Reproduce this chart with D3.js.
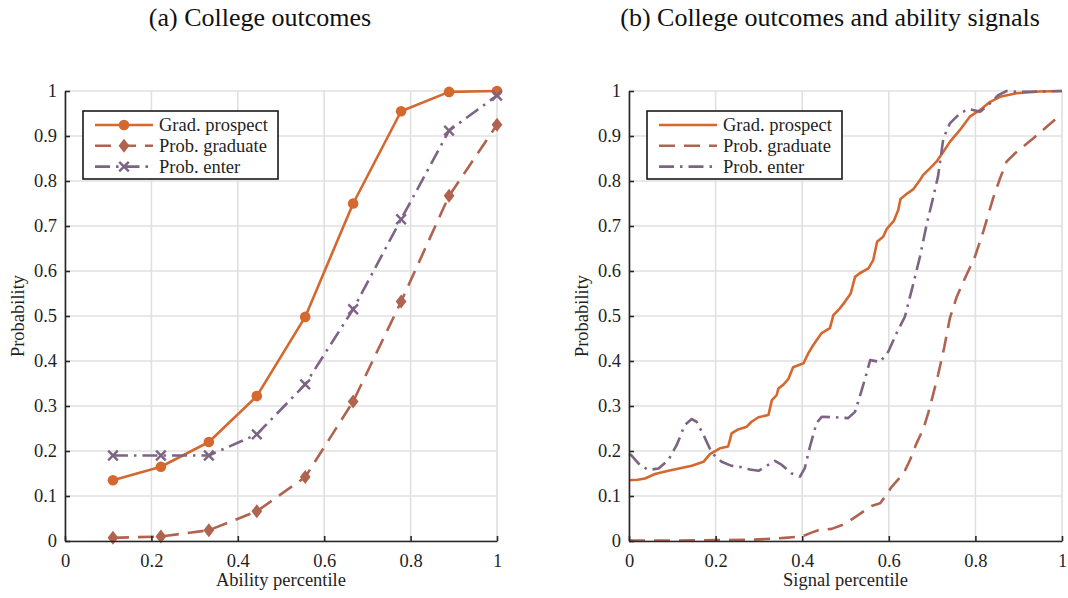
<!DOCTYPE html>
<html>
<head>
<meta charset="utf-8">
<script src="https://cdn.jsdelivr.net/npm/d3@7"></script>
<style>
  body { margin: 0; background: #fff; }
  svg { display: block; }
  text { font-family: "Liberation Serif", "DejaVu Serif", serif; fill: #1f1f1f; }
  .title { font-size: 26px; fill: #111; }
  .tick text { font-size: 18.5px; }
  .axis-label { font-size: 18.5px; }
  .legend text { font-size: 18.5px; }
</style>
</head>
<body>
<svg id="chart" width="1068" height="598"></svg>
<script>
// ---- data ----
const seriesNames = ['Grad. prospect', 'Prob. graduate', 'Prob. enter'];
const seriesColors = ['#d4682e', '#b0634f', '#7d6384'];

// panel (a): ability percentile
const abilityX = [0.111, 0.222, 0.333, 0.444, 0.556, 0.667, 0.778, 0.889, 1.0];
const abilityGradProspect = [0.135, 0.165, 0.22, 0.322, 0.498, 0.75, 0.955, 0.998, 1.0];
const abilityProbGraduate = [0.007, 0.01, 0.024, 0.066, 0.142, 0.31, 0.532, 0.767, 0.925];
const abilityProbEnter = [0.19, 0.19, 0.19, 0.237, 0.348, 0.515, 0.715, 0.912, 0.99];

// panel (b): signal percentile, [x, y]
const signalGradProspect = [
  [0, 0.135], [0.02, 0.136], [0.037, 0.139], [0.06, 0.149], [0.091, 0.156], [0.145, 0.167],
  [0.172, 0.176], [0.187, 0.193], [0.21, 0.206], [0.229, 0.21], [0.237, 0.239], [0.252, 0.248],
  [0.272, 0.254], [0.283, 0.265], [0.299, 0.275], [0.322, 0.28], [0.33, 0.313], [0.341, 0.324],
  [0.345, 0.339], [0.356, 0.347], [0.368, 0.36], [0.379, 0.386], [0.403, 0.395], [0.414, 0.417],
  [0.426, 0.436], [0.445, 0.462], [0.464, 0.473], [0.472, 0.502], [0.487, 0.517], [0.499, 0.532],
  [0.512, 0.55], [0.522, 0.587], [0.533, 0.595], [0.553, 0.606], [0.564, 0.624], [0.573, 0.665],
  [0.587, 0.676], [0.595, 0.693], [0.612, 0.712], [0.622, 0.736], [0.627, 0.76], [0.641, 0.771],
  [0.657, 0.782], [0.672, 0.802], [0.679, 0.813], [0.695, 0.828], [0.71, 0.843], [0.726, 0.865],
  [0.741, 0.887], [0.764, 0.913], [0.787, 0.943], [0.811, 0.958], [0.834, 0.976], [0.857, 0.987],
  [0.895, 0.995], [0.949, 0.999], [1.0, 1.0]
];
const signalProbGraduate = [
  [0, 0.001], [0.1, 0.001], [0.2, 0.002], [0.29, 0.003], [0.36, 0.007], [0.399, 0.01],
  [0.42, 0.018], [0.437, 0.024], [0.468, 0.027], [0.499, 0.038], [0.53, 0.058], [0.56, 0.078],
  [0.58, 0.084], [0.591, 0.098], [0.607, 0.121], [0.634, 0.15], [0.649, 0.18], [0.664, 0.217],
  [0.68, 0.25], [0.691, 0.284], [0.703, 0.328], [0.714, 0.37], [0.728, 0.43], [0.741, 0.495],
  [0.757, 0.543], [0.772, 0.576], [0.799, 0.632], [0.818, 0.687], [0.841, 0.762], [0.857, 0.806],
  [0.872, 0.843], [0.891, 0.861], [0.934, 0.895], [1.0, 0.95]
];
const signalProbEnter = [
  [0, 0.193], [0.005, 0.191], [0.025, 0.169], [0.045, 0.158], [0.068, 0.161], [0.091, 0.18],
  [0.11, 0.213], [0.129, 0.258], [0.145, 0.271], [0.156, 0.265], [0.172, 0.236], [0.191, 0.196],
  [0.214, 0.176], [0.237, 0.167], [0.26, 0.164], [0.279, 0.159], [0.299, 0.156], [0.318, 0.167],
  [0.337, 0.178], [0.353, 0.169], [0.376, 0.15], [0.395, 0.143], [0.406, 0.162], [0.418, 0.21],
  [0.433, 0.262], [0.445, 0.276], [0.476, 0.275], [0.506, 0.273], [0.522, 0.287], [0.533, 0.321],
  [0.545, 0.36], [0.557, 0.402], [0.58, 0.398], [0.599, 0.421], [0.618, 0.462], [0.637, 0.498],
  [0.657, 0.573], [0.672, 0.632], [0.688, 0.706], [0.703, 0.765], [0.714, 0.812], [0.726, 0.895],
  [0.741, 0.928], [0.764, 0.95], [0.784, 0.96], [0.811, 0.954], [0.83, 0.969], [0.853, 0.991],
  [0.872, 1.0], [0.895, 0.998], [1.0, 1.0]
];

const xTicks = [0, 0.2, 0.4, 0.6, 0.8, 1];
const yTicks = [0, 0.1, 0.2, 0.3, 0.4, 0.5, 0.6, 0.7, 0.8, 0.9, 1];

// ---- drawing ----
const svg = d3.select('#chart');
const dashes = [null, '16,9', '15,6,2.5,6'];
const lineWidth = 2.6;

const drawMarker = (g, kind, color) => {
  if (kind === 'circle') {
    g.append('circle').attr('r', 5.3).attr('fill', color);
  } else if (kind === 'diamond') {
    g.append('path').attr('d', 'M0,-7L5.4,0L0,7L-5.4,0Z').attr('fill', color);
  } else if (kind === 'cross') {
    g.append('path').attr('d', 'M-4.8,-4.8L4.8,4.8M-4.8,4.8L4.8,-4.8')
      .attr('stroke', color).attr('stroke-width', 2.4).attr('fill', 'none');
  }
};

const drawPanel = ({ left, right, title, titleX, xLabel, series, markers }) => {
  const top = 91, bottom = 541;
  const x = d3.scaleLinear().domain([0, 1]).range([left, right]);
  const y = d3.scaleLinear().domain([0, 1]).range([bottom, top]);
  const g = svg.append('g');

  // grid
  g.append('g').selectAll('line').data(xTicks).join('line')
    .attr('x1', (d) => x(d)).attr('x2', (d) => x(d)).attr('y1', top).attr('y2', bottom)
    .attr('stroke', '#e0e0e0').attr('stroke-width', 1.6);
  g.append('g').selectAll('line').data(yTicks).join('line')
    .attr('x1', left).attr('x2', right).attr('y1', (d) => y(d)).attr('y2', (d) => y(d))
    .attr('stroke', '#e0e0e0').attr('stroke-width', 1.6);

  // series
  const line = d3.line().x((d) => x(d[0])).y((d) => y(d[1]));
  series.forEach((pts, i) => {
    g.append('path').datum(pts).attr('d', line)
      .attr('fill', 'none').attr('stroke', seriesColors[i]).attr('stroke-width', lineWidth)
      .attr('stroke-dasharray', dashes[i]).attr('stroke-linejoin', 'round');
    if (markers) {
      pts.forEach((p) => {
        const m = g.append('g').attr('transform', `translate(${x(p[0])},${y(p[1])})`);
        drawMarker(m, markers[i], seriesColors[i]);
      });
    }
  });

  // axes, ticks pointing inward
  const fmt = (d) => String(d);
  const ax = g.append('g').attr('transform', `translate(0,${bottom})`)
    .call(d3.axisBottom(x).tickValues(xTicks).tickFormat(fmt).tickSizeInner(-5).tickSizeOuter(0).tickPadding(13));
  const ay = g.append('g').attr('transform', `translate(${left},0)`)
    .call(d3.axisLeft(y).tickValues(yTicks).tickFormat(fmt).tickSizeInner(-5).tickSizeOuter(0).tickPadding(8));
  [ax, ay].forEach((a) => {
    a.attr('font-family', null).attr('font-size', null);
    a.select('.domain').attr('stroke', '#262626').attr('stroke-width', 1.6);
    a.selectAll('.tick line').attr('stroke', '#262626').attr('stroke-width', 1.6);
    a.selectAll('.tick text').attr('fill', '#1f1f1f');
  });

  // labels
  svg.append('text').attr('class', 'title').attr('x', titleX).attr('y', 26)
    .attr('text-anchor', 'middle').text(title);
  svg.append('text').attr('class', 'axis-label').attr('x', (left + right) / 2).attr('y', 586)
    .attr('text-anchor', 'middle').text(xLabel);
  svg.append('text').attr('class', 'axis-label')
    .attr('transform', `translate(${left - 41},${(top + bottom) / 2}) rotate(-90)`)
    .attr('text-anchor', 'middle').text('Probability');

  // legend
  const lx = left + 18, ly = 111;
  const lg = g.append('g').attr('class', 'legend');
  lg.append('rect').attr('x', lx).attr('y', ly).attr('width', 195).attr('height', 68)
    .attr('fill', '#fff').attr('stroke', '#1a1a1a').attr('stroke-width', 1.6);
  seriesNames.forEach((name, i) => {
    const cy = ly + 14 + i * 20.8;
    lg.append('line').attr('x1', lx + 12).attr('x2', lx + 70).attr('y1', cy).attr('y2', cy)
      .attr('stroke', seriesColors[i]).attr('stroke-width', lineWidth).attr('stroke-dasharray', dashes[i]);
    if (markers) {
      const m = lg.append('g').attr('transform', `translate(${lx + 41},${cy})`);
      drawMarker(m, markers[i], seriesColors[i]);
    }
    lg.append('text').attr('x', lx + 76).attr('y', cy + 6).text(name);
  });
};

const zip = (xs, ys) => xs.map((v, i) => [v, ys[i]]);

drawPanel({
  left: 65, right: 497, title: '(a) College outcomes', titleX: 260,
  xLabel: 'Ability percentile',
  series: [zip(abilityX, abilityGradProspect), zip(abilityX, abilityProbGraduate), zip(abilityX, abilityProbEnter)],
  markers: ['circle', 'diamond', 'cross']
});

drawPanel({
  left: 629, right: 1062, title: '(b) College outcomes and ability signals', titleX: 830,
  xLabel: 'Signal percentile',
  series: [signalGradProspect, signalProbGraduate, signalProbEnter],
  markers: null
});
</script>
</body>
</html>
